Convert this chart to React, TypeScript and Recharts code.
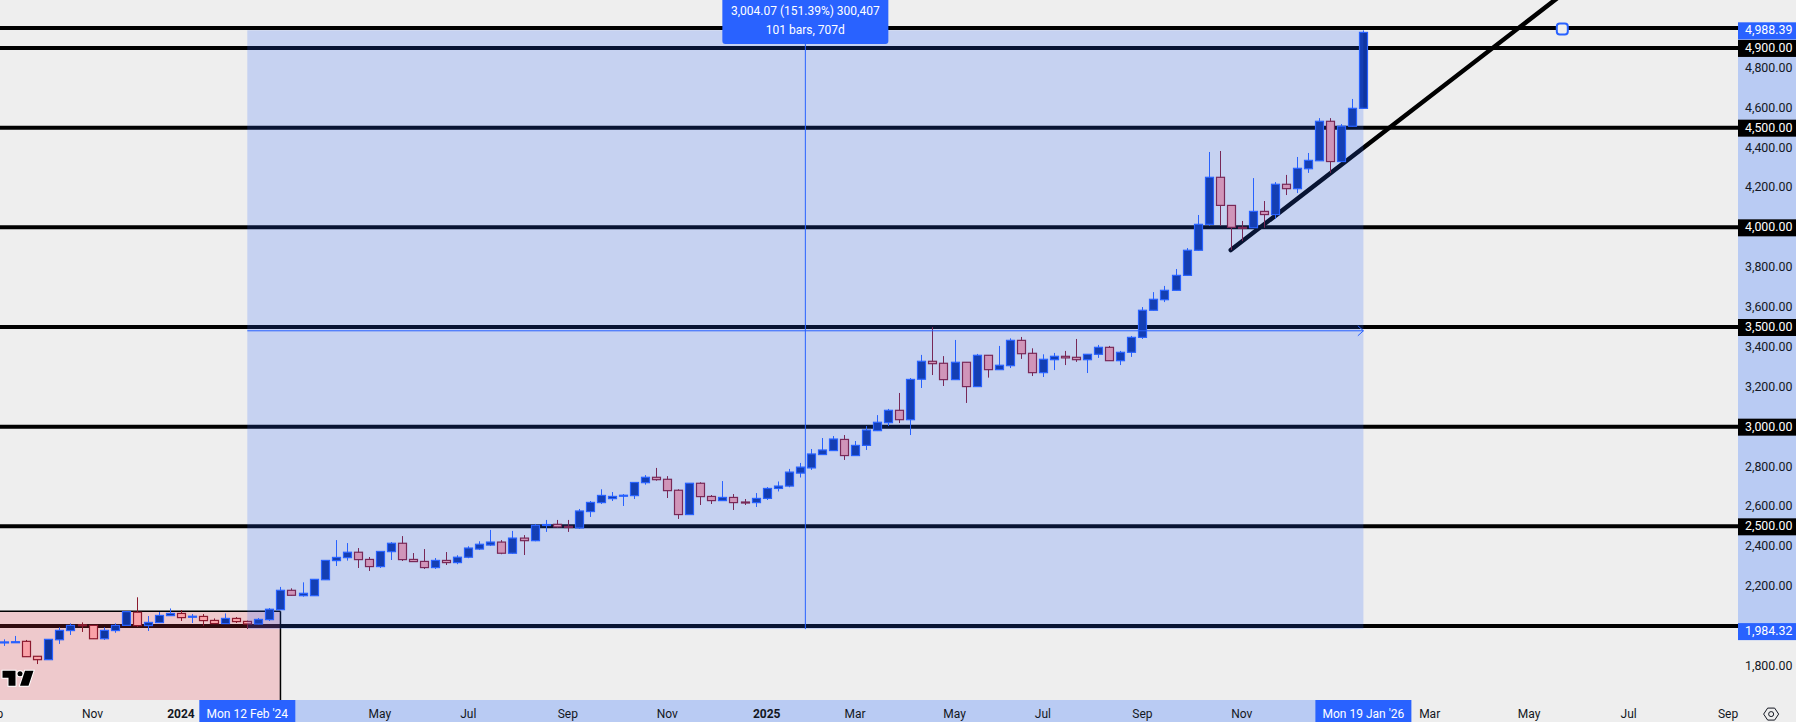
import { ComposedChart, Bar, XAxis, YAxis, ReferenceArea, ReferenceLine, ReferenceDot } from "recharts";

const opens = [1919,1920,1923,1848,1831,1931,1977,2006,2003,1936,1977,2003,2069,2002,2017,2052,2063,2047,2048,2028,2012,2038,2023,2010,2032,2082,2179,2152,2152,2232,2328,2343,2370,2334,2298,2373,2415,2334,2324,2293,2329,2318,2345,2386,2406,2421,2365,2441,2428,2507,2510,2500,2492,2574,2619,2639,2654,2654,2719,2746,2736,2681,2559,2716,2650,2629,2645,2622,2619,2640,2690,2702,2767,2793,2860,2880,2936,2855,2906,2980,3020,3082,3035,3238,3328,3318,3236,3323,3201,3358,3286,3306,3433,3368,3271,3336,3353,3348,3336,3363,3398,3331,3373,3448,3584,3637,3684,3759,3885,4015,4251,4110,4000,3998,4080,4064,4216,4194,4294,4334,4532,4330,4507,4597];
const highs = [1933,1950,1930,1849,1934,1993,2013,2018,2005,1993,2013,2074,2144,2050,2070,2088,2080,2060,2060,2038,2063,2045,2027,2040,2090,2196,2189,2219,2235,2330,2431,2416,2391,2346,2375,2421,2451,2366,2386,2341,2371,2355,2400,2425,2482,2431,2477,2456,2512,2532,2532,2532,2587,2627,2686,2672,2662,2721,2757,2793,2752,2686,2717,2721,2657,2727,2662,2637,2667,2697,2725,2788,2818,2888,2943,2953,2958,2928,3003,3058,3089,3169,3244,3360,3500,3354,3435,3324,3365,3359,3405,3443,3450,3393,3363,3370,3380,3440,3364,3410,3405,3380,3455,3600,3675,3706,3791,3896,4062,4378,4383,4111,4032,4247,4132,4227,4263,4353,4373,4548,4548,4518,4644,4988];
const lows = [1900,1916,1845,1809,1830,1910,1955,1970,1935,1930,1966,2002,1995,1975,2016,2051,2025,2015,2000,2011,2011,2015,1985,2009,2025,2081,2153,2147,2151,2231,2301,2328,2291,2276,2291,2331,2326,2322,2286,2286,2306,2310,2340,2381,2401,2360,2362,2356,2425,2472,2493,2472,2487,2547,2612,2627,2602,2637,2709,2729,2642,2537,2558,2607,2612,2628,2582,2607,2597,2632,2675,2696,2745,2783,2858,2878,2833,2853,2883,2978,3003,3018,2958,3194,3259,3204,3234,3119,3199,3246,3285,3294,3340,3254,3249,3284,3309,3325,3269,3345,3330,3309,3350,3440,3583,3625,3682,3758,3883,4008,4008,3886,3931,3997,3998,4043,4162,4172,4273,4333,4273,4328,4505,4596];
const closes = [1920,1921,1846,1831,1933,1978,2003,2004,1936,1978,2003,2072,2002,2018,2053,2063,2042,2049,2027,2012,2038,2022,2010,2033,2084,2179,2154,2164,2234,2329,2344,2370,2333,2298,2374,2415,2333,2323,2293,2329,2318,2345,2391,2410,2421,2365,2441,2428,2505,2509,2497,2494,2577,2620,2655,2650,2656,2720,2746,2734,2679,2559,2716,2649,2629,2645,2619,2619,2640,2690,2702,2772,2797,2863,2883,2938,2855,2906,2983,3022,3082,3035,3237,3328,3316,3236,3323,3201,3358,3286,3308,3433,3366,3271,3338,3353,3345,3336,3363,3398,3331,3373,3448,3584,3639,3684,3759,3885,4015,4251,4110,4000,3996,4080,4064,4216,4194,4296,4336,4532,4330,4507,4597,4978];

const priceTicks = [4988.39, 4900, 4800, 4600, 4500, 4400, 4200, 4000, 3800, 3600, 3500, 3400, 3200, 3000, 2800, 2600, 2500, 2400, 2200, 1984.32, 1800];
const levelLabels = [4900, 4500, 4000, 3500, 3000, 2500];
const rangeLabels = [4988.39, 1984.32];
const levels = [5000, 4900, 4500, 4000, 3500, 3000, 2500, 2000];

const timeTicks = [-1, 8, 16, 22, 34, 42, 51, 60, 69, 77, 86, 94, 103, 112, 123, 129, 138, 147, 156];
const timeLabels = ["Sep", "Nov", "2024", "Mon 12 Feb '24", "May", "Jul", "Sep", "Nov", "2025", "Mar", "May", "Jul", "Sep", "Nov", "Mon 19 Jan '26", "Mar", "May", "Jul", "Sep"];

const rangeStart = 22;
const rangeEnd = 123;
const rangeLow = 1984.32;
const rangeHigh = 4988.39;
const rangeMid = 3481;
const xMin = -0.38;
const xMax = 156.9;
const yMin = 1628.7;
const yMax = 5140.5;

const data = opens.map((open, i) => ({ bar: i, open, high: highs[i], low: lows[i], close: closes[i] }));

const FONT = "Roboto, sans-serif";
const BLUE = "#2962ff";

function Candle(props: any) {
  const { x, y, width, height, payload } = props;
  const up = payload.close >= payload.open;
  const perUnit = height / (payload.high - payload.low);
  const yTop = y + (payload.high - Math.max(payload.open, payload.close)) * perUnit;
  const yBottom = y + (payload.high - Math.min(payload.open, payload.close)) * perUnit;
  const cx = Math.round(x + width / 2) + 0.5;
  const stroke = up ? BLUE : "#8c1a2e";
  return (
    <g>
      <line x1={cx} x2={cx} y1={y} y2={y + height} stroke={stroke} strokeWidth={1} />
      <rect x={cx - 4} y={yTop} width={8} height={Math.max(yBottom - yTop, 1)} fill={up ? "#0f36a0" : "#faa2a8"} stroke={stroke} strokeWidth={1.2} />
    </g>
  );
}

function PriceTick(props: any) {
  const { x, y, payload } = props;
  const v = payload.value;
  const isLevel = levelLabels.includes(v);
  const isRange = rangeLabels.includes(v);
  const boxY = v === rangeLow ? y - 6 : y - 8;
  return (
    <g>
      {isLevel && <rect x={x} y={boxY} width={58} height={17} fill="#000" />}
      {isRange && <rect x={x} y={boxY} width={58} height={17} fill={BLUE} />}
      <text x={x + 54.5} y={boxY + 12} textAnchor="end" fontFamily={FONT} fontSize={12.4} fill={isLevel || isRange ? "#fff" : "#131722"}>
        {v.toLocaleString("en-US", { minimumFractionDigits: 2, maximumFractionDigits: 2 })}
      </text>
    </g>
  );
}

function TimeTick(props: any) {
  const { x, y, payload } = props;
  const label = timeLabels[timeTicks.indexOf(payload.value)];
  const isRange = payload.value === rangeStart || payload.value === rangeEnd;
  const isYear = label === "2024" || label === "2025";
  return (
    <g>
      {isRange && <rect x={x - 48} y={y} width={96} height={22} fill={BLUE} />}
      <text x={x} y={y + 18} textAnchor="middle" fontFamily={FONT} fontSize={12} fontWeight={isYear ? 700 : 400} fill={isRange ? "#fff" : "#131722"}>
        {label}
      </text>
    </g>
  );
}

function MeasureTooltip(props: any) {
  const { cx } = props;
  return (
    <g>
      <path d={`M${cx - 83} -4 H${cx + 83} V41 Q${cx + 83} 44 ${cx + 80} 44 H${cx - 80} Q${cx - 83} 44 ${cx - 83} 41 Z`} fill={BLUE} />
      <text x={cx} y={14.5} textAnchor="middle" fontFamily={FONT} fontSize={12} fill="#fff">3,004.07 (151.39%) 300,407</text>
      <text x={cx} y={34} textAnchor="middle" fontFamily={FONT} fontSize={12} fill="#fff">101 bars, 707d</text>
    </g>
  );
}

function Handle(props: any) {
  const { cx, cy } = props;
  return <rect x={cx - 5.5} y={cy - 5.5} width={11} height={11} rx={3} fill="#eeeeee" stroke={BLUE} strokeWidth={2} />;
}

function Logo(props: any) {
  const { cx, cy } = props;
  return (
    <g transform={`translate(${cx} ${cy})`} fill="#000" stroke="#fff" strokeWidth={2} paintOrder="stroke">
      <path d="M2.5 1 H15.5 V16 H8.5 V8 H2.5 Z" />
      <circle cx={20} cy={4} r={2.5} />
      <path d="M25 1 H33.5 L28.5 16 H20 Z" />
    </g>
  );
}

function SettingsIcon(props: any) {
  const { cx, cy } = props;
  return (
    <g transform={`translate(${cx} ${cy})`} fill="none" stroke="#131722" strokeWidth={1}>
      <path d="M-7.5 0 L-3.5 -6 H3.5 L7.5 0 L3.5 6 H-3.5 Z" />
      <circle r={2.5} />
    </g>
  );
}

export default function App() {
  return (
    <div style={{ position: "absolute", left: 0, top: 0, width: 1796, height: 722, background: "#eeeeee", overflow: "hidden" }}>
      <ComposedChart width={1796} height={722} data={data} margin={{ top: 0, right: 0, bottom: 0, left: 0 }}>
        <XAxis
          dataKey="bar"
          type="number"
          scale="linear"
          domain={[xMin, xMax]}
          allowDataOverflow
          ticks={timeTicks}
          interval={0}
          height={22}
          axisLine={false}
          tickLine={false}
          tickSize={0}
          tickMargin={0}
          tick={<TimeTick />}
        />
        <YAxis
          orientation="right"
          type="number"
          domain={[yMin, yMax]}
          allowDataOverflow
          ticks={priceTicks}
          interval={0}
          width={58}
          axisLine={false}
          tickLine={false}
          tickSize={0}
          tickMargin={0}
          tick={<PriceTick />}
        />

        {/* axis highlight bands for the measured range */}
        <ReferenceArea x1={rangeStart} x2={rangeEnd} y1={yMin - 110} y2={yMin} fill="#b9cbf3" fillOpacity={1} stroke="none" ifOverflow="visible" zIndex={50} />
        <ReferenceArea x1={xMax} x2={xMax + 6} y1={rangeLow} y2={rangeHigh} fill="#b9cbf3" fillOpacity={1} stroke="none" ifOverflow="visible" zIndex={50} />

        {levels.map((v) => (
          <ReferenceLine key={v} y={v} stroke="#000" strokeWidth={4} zIndex={100} />
        ))}

        {/* red box at the lower left */}
        <ReferenceArea x1={xMin} x2={25} y1={yMin} y2={2073.6} fill="#f23645" fillOpacity={0.2} stroke="none" zIndex={150} />
        <ReferenceLine segment={[{ x: xMin, y: 2073.6 }, { x: 25, y: 2073.6 }]} stroke="#000" strokeWidth={1.5} zIndex={150} />
        <ReferenceLine segment={[{ x: 25, y: 2073.6 }, { x: 25, y: yMin }]} stroke="#000" strokeWidth={1.5} zIndex={150} />

        <ReferenceLine segment={[{ x: 111, y: 3886 }, { x: 142, y: 5212 }]} stroke="#000" strokeWidth={4.5} strokeLinecap="round" ifOverflow="visible" zIndex={200} />

        <Bar dataKey={(d: any) => [d.low, d.high]} barSize={9} shape={<Candle />} isAnimationActive={false} zIndex={300} />

        {/* measure overlay, sits over the candles */}
        <ReferenceArea x1={rangeStart} x2={rangeEnd} y1={rangeLow} y2={rangeHigh} fill={BLUE} fillOpacity={0.2} stroke="none" zIndex={600} />
        <ReferenceLine segment={[{ x: rangeStart, y: rangeMid }, { x: rangeEnd, y: rangeMid }]} stroke={BLUE} strokeWidth={1} zIndex={650} />
        <ReferenceLine segment={[{ x: rangeEnd - 0.5, y: rangeMid + 25 }, { x: rangeEnd, y: rangeMid }]} stroke={BLUE} strokeWidth={1} zIndex={650} />
        <ReferenceLine segment={[{ x: rangeEnd - 0.5, y: rangeMid - 25 }, { x: rangeEnd, y: rangeMid }]} stroke={BLUE} strokeWidth={1} zIndex={650} />
        <ReferenceLine segment={[{ x: 72.5, y: rangeLow }, { x: 72.5, y: rangeHigh }]} stroke={BLUE} strokeWidth={1} zIndex={650} />
        <ReferenceDot x={72.5} y={rangeHigh} shape={<MeasureTooltip />} ifOverflow="visible" zIndex={700} />
        <ReferenceDot x={141} y={4995} shape={<Handle />} ifOverflow="visible" zIndex={700} />
        <ReferenceDot x={xMin} y={1780} shape={<Logo />} ifOverflow="visible" zIndex={700} />
        <ReferenceDot x={159.9} y={1558} shape={<SettingsIcon />} ifOverflow="visible" zIndex={700} />
      </ComposedChart>
    </div>
  );
}
